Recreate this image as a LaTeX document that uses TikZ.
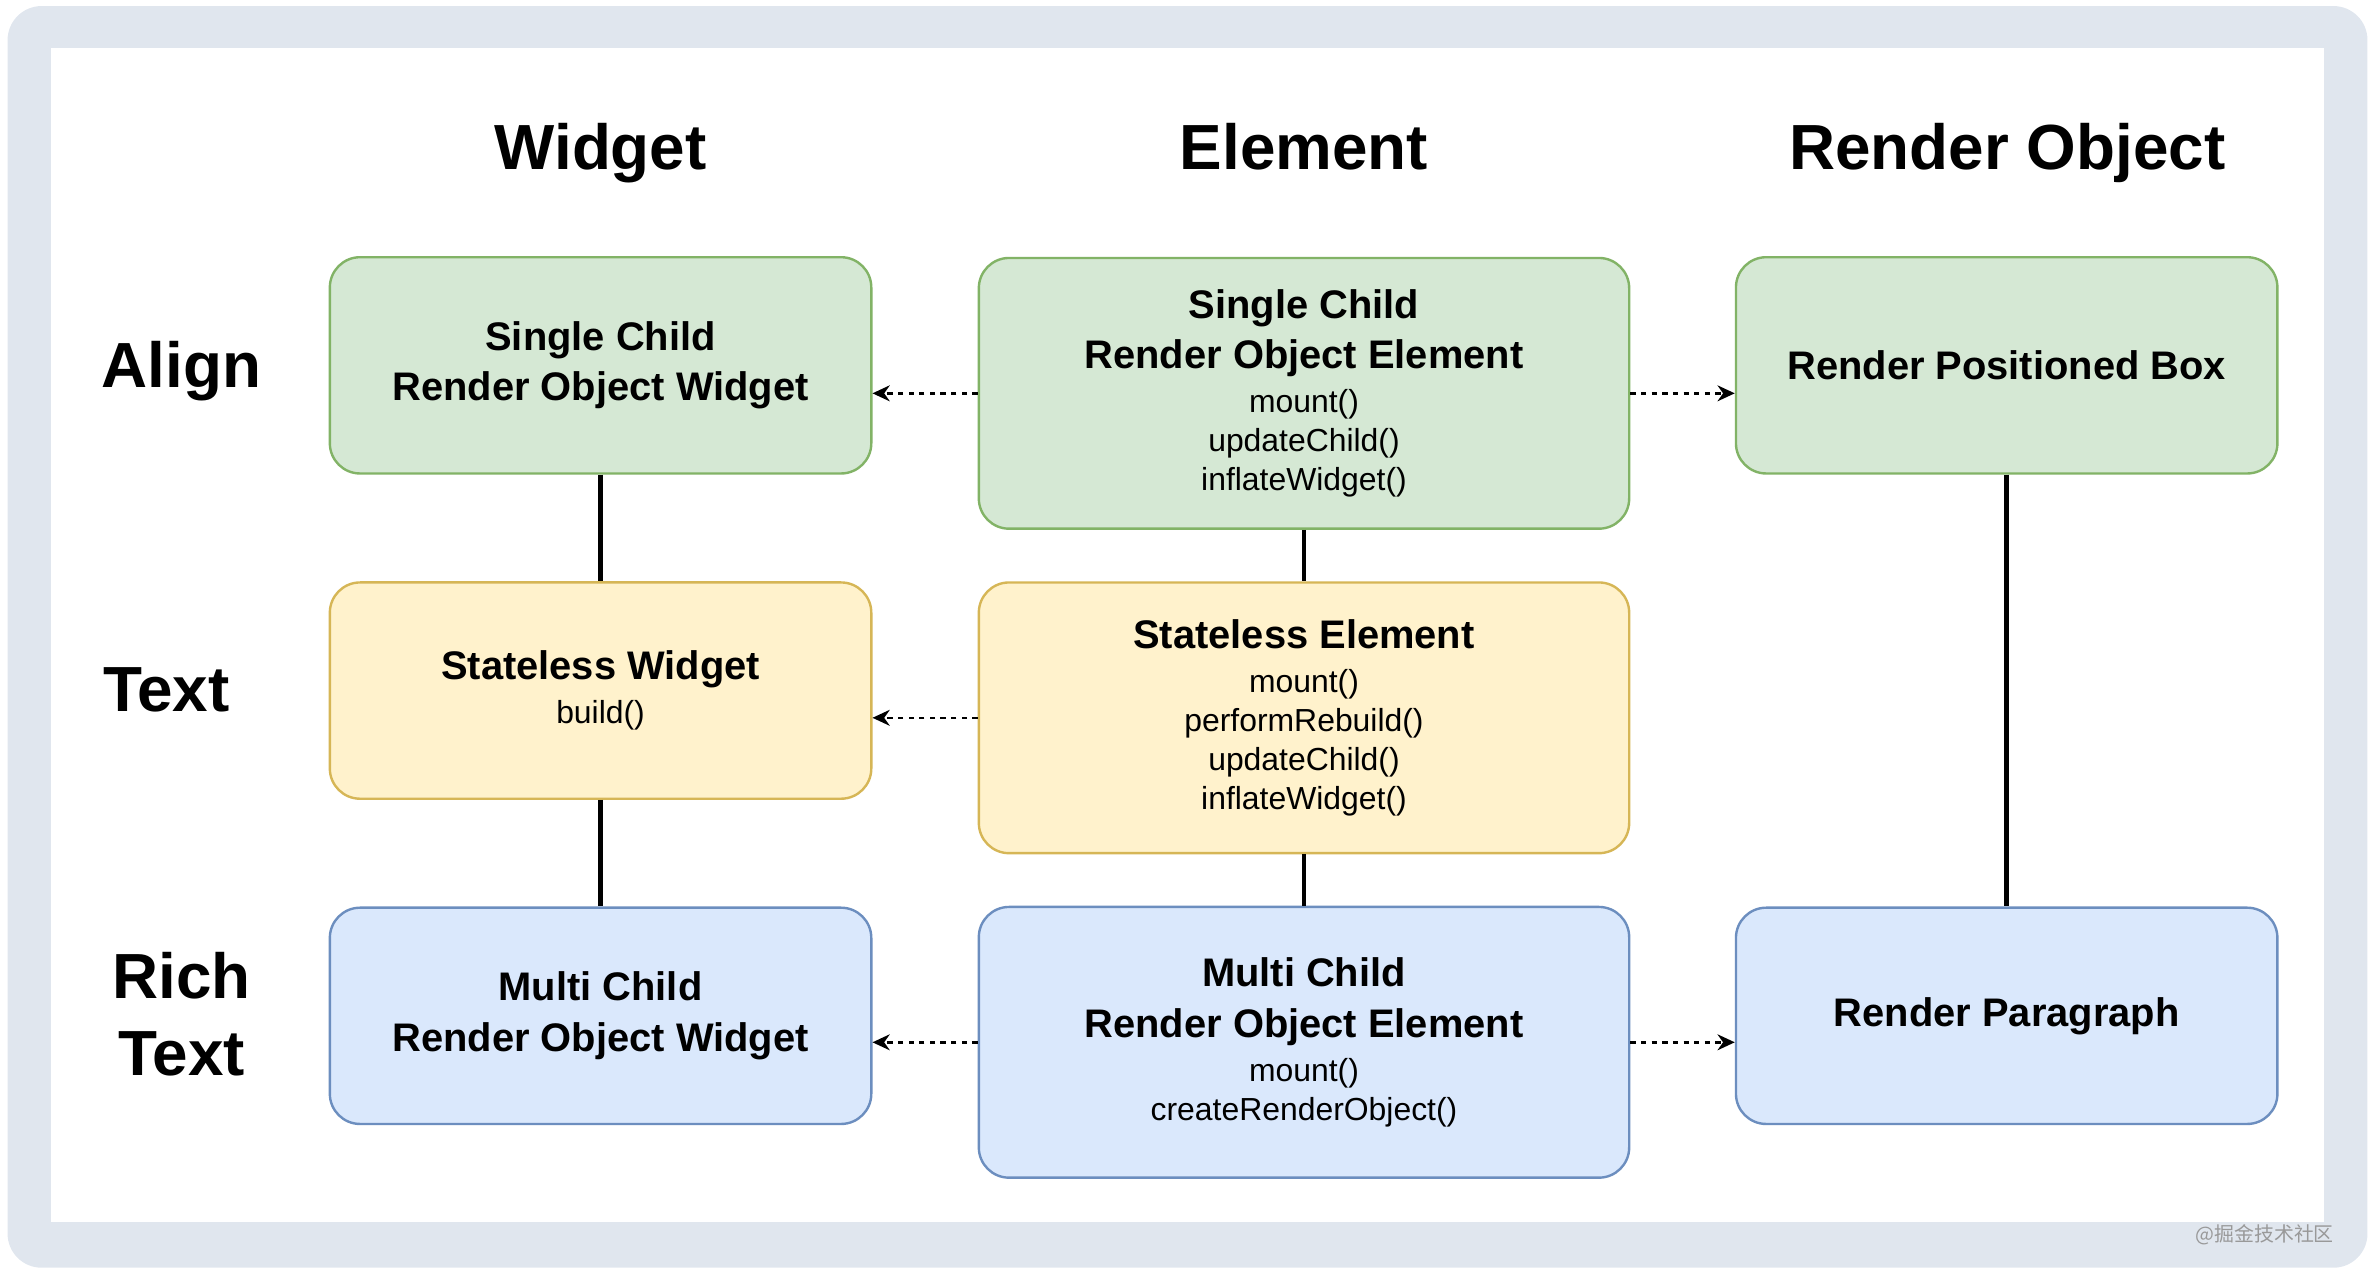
\documentclass[tikz,border=0pt]{standalone}
\usepackage{fontspec}
\setmainfont{Liberation Sans}
\newfontfamily\cjkfont{Noto Sans CJK SC}
\usetikzlibrary{arrows.meta}

\definecolor{framegray}{RGB}{224,230,238}
\definecolor{greenfill}{HTML}{D5E8D4}
\definecolor{greenline}{HTML}{82B366}
\definecolor{yellowfill}{HTML}{FFF2CC}
\definecolor{yellowline}{HTML}{D6B656}
\definecolor{bluefill}{HTML}{DAE8FC}
\definecolor{blueline}{HTML}{6C8EBF}

\newcommand{\boxtitle}{\bfseries\fontsize{15}{18}\selectfont}
\newcommand{\headfont}{\bfseries\fontsize{24}{29}\selectfont}

\tikzset{
  unit/.style={draw, rounded corners=0.4cm, line width=0.9pt, align=center,
    font=\fontsize{12}{14.6}\selectfont},
  greenunit/.style={unit, fill=greenfill, draw=greenline},
  yellowunit/.style={unit, fill=yellowfill, draw=yellowline},
  blueunit/.style={unit, fill=bluefill, draw=blueline},
  widgetsize/.style={minimum width=7.16cm, minimum height=2.86cm},
  elementsize/.style={minimum width=8.6cm, minimum height=3.58cm},
  heading/.style={anchor=base, font=\headfont, align=center},
  link/.style={line width=1.8pt},
  ref/.style={line width=0.9pt, dash pattern=on 2pt off 2pt,
    -{Stealth[length=6.5pt, width=6pt]}}
}

\begin{document}
\begin{tikzpicture}[x=0.02cm, y=-0.02cm]
  \useasboundingbox (0, 0) rectangle (1568, 842);

  % Frame
  \fill [framegray, rounded corners=0.45cm] (5, 4) rectangle (1565, 838);
  \fill [white] (34, 32) rectangle (1536, 808);

  % Column headers
  \node [heading] (hwidget) at (397, 112) {Widget};
  \node [heading] (helement) at (862, 112) {Element};
  \node [heading] (hrender) at (1327, 112) {Render Object};

  % Row labels
  \node [heading] (lalign) at (120, 256) {Align};
  \node [heading] (ltext) at (110, 470) {Text};
  \node [heading] (lrich) at (120, 711) {Rich\\Text};

  % Align row
  \node [greenunit, widgetsize] (w1) at (397, 241.5)
    {{\boxtitle Single Child}\\[4.3pt]{\boxtitle Render Object Widget}};
  \node [greenunit, elementsize] (e1) at (862, 260)
    {{\boxtitle Single Child}\\[4.3pt]{\boxtitle Render Object Element}\\[2pt]mount()\\updateChild()\\inflateWidget()};
  \node [greenunit, widgetsize] (r1) at (1326.5, 241.5)
    {{\boxtitle Render Positioned Box}};

  % Text row
  \node [yellowunit, widgetsize] (w2) at (397, 456.5)
    {{\boxtitle Stateless Widget}\\[2pt]build()};
  \node [yellowunit, elementsize] (e2) at (862, 474.5)
    {{\boxtitle Stateless Element}\\[2pt]mount()\\performRebuild()\\updateChild()\\inflateWidget()};

  % Rich text row
  \node [blueunit, widgetsize] (w3) at (397, 671.5)
    {{\boxtitle Multi Child}\\[4.3pt]{\boxtitle Render Object Widget}};
  \node [blueunit, elementsize] (e3) at (862, 689)
    {{\boxtitle Multi Child}\\[4.3pt]{\boxtitle Render Object Element}\\[2pt]mount()\\createRenderObject()};
  \node [blueunit, widgetsize] (r3) at (1326.5, 671.5)
    {{\boxtitle Render Paragraph}};

  % Tree links
  \draw [link] (w1) -- (w2);
  \draw [link] (w2) -- (w3);
  \draw [link] (e1) -- (e2);
  \draw [link] (e2) -- (e3);
  \draw [link] (r1) -- (r3);

  % Element references
  \draw [ref] (e1.west) -- (e1.west -| w1.east);
  \draw [ref] (e2.west) -- (e2.west -| w2.east);
  \draw [ref] (e3.west) -- (e3.west -| w3.east);
  \draw [ref] (e1.east) -- (e1.east -| r1.west);
  \draw [ref] (e3.east) -- (e3.east -| r3.west);

  % Watermark
  \node [anchor=base east, font=\cjkfont\fontsize{7.5}{8}\selectfont, text=black!40] (credit)
    at (1549, 821) {@掘金技术社区};
\end{tikzpicture}
\end{document}
